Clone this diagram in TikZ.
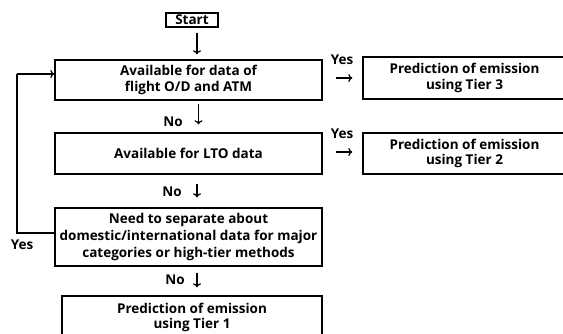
\documentclass[tikz,border=0pt]{standalone}
\usepackage{fontspec}
\setmainfont{Open Sans}[BoldFont={* Bold}]
\usetikzlibrary{arrows.meta}
\begin{document}
\begin{tikzpicture}[x=1pt,y=-1pt,
  box/.style={draw=black,line width=1.4pt,inner sep=0pt,align=center,font=\fontsize{13.5}{15.5}\selectfont\bfseries},
  lbl/.style={inner sep=0pt,font=\fontsize{13.5}{15}\selectfont\bfseries},
  arr/.style={line width=1.2pt,-{To[length=4pt,width=8pt]}},
  loop/.style={line width=1.2pt}]
\useasboundingbox (0,0) rectangle (563,333);
\node[box,minimum width=52pt,minimum height=14pt] (st) at (192,20) {Start};
\node[box,minimum width=267pt,minimum height=40pt] (b1) at (188.5,80) {Available for data of\\flight O/D and ATM};
\node[box,minimum width=267pt,minimum height=41pt] (b2) at (188.5,153.5) {Available for LTO data};
\node[box,minimum width=267pt,minimum height=58pt,font=\fontsize{13.5}{17}\selectfont\bfseries] (b4) at (188.5,237) {Need to separate about\\domestic/international data for major\\categories or high-tier methods};
\node[box,minimum width=260pt,minimum height=44pt] (b5) at (192,318) {};
\node[lbl,align=center,font=\fontsize{13.5}{15}\selectfont\bfseries] (b5t) at (192,317) {Prediction of emission\\using Tier 1};
\node[box,minimum width=203pt,minimum height=42pt] (t3) at (464.5,78) {Prediction of emission\\using Tier 3};
\node[box,minimum width=203pt,minimum height=41pt] (t2) at (464.5,153.5) {Prediction of emission\\using Tier 2};
% down arrows
\draw[arr] ([xshift=5pt,yshift=-5pt]st.south) -- ([xshift=8.5pt,yshift=5pt]b1.north);
\draw[arr] ([xshift=10pt,yshift=-3pt]b1.south) -- ([xshift=10pt,yshift=8pt]b2.north);
\draw[arr] ([xshift=8.5pt,yshift=-9pt]b2.south) -- ([xshift=8.5pt,yshift=10pt]b4.north);
\draw[arr] ([xshift=8.5pt,yshift=-6pt]b4.south) -- ([xshift=5pt,yshift=8pt]b5.north);
\node[lbl] (no1) at (173,122) {No};
\node[lbl] (no2) at (172,192) {No};
\node[lbl] (no3) at (175,280) {No};
% right arrows
\coordinate (r1a) at ([xshift=13pt,yshift=2pt]b1.east);
\coordinate (r2a) at ([xshift=13pt,yshift=1.5pt]b2.east);
\draw[arr] (r1a) -- ([xshift=-10pt]t3.west |- r1a);
\draw[arr] (r2a) -- ([xshift=-10pt]t2.west |- r2a);
\node[lbl] (y1) at (342,60) {Yes};
\node[lbl] (y2) at (342,134) {Yes};
% loop back
\coordinate (lp1) at (17,233);
\coordinate (lp2) at (17,74);
\draw[loop] ([yshift=4pt]b4.west) -- (lp1) -- (lp2);
\draw[arr] (lp2) -- ([yshift=6pt]b1.west);
\node[lbl] (y3) at (22,245) {Yes};
\end{tikzpicture}
\end{document}
